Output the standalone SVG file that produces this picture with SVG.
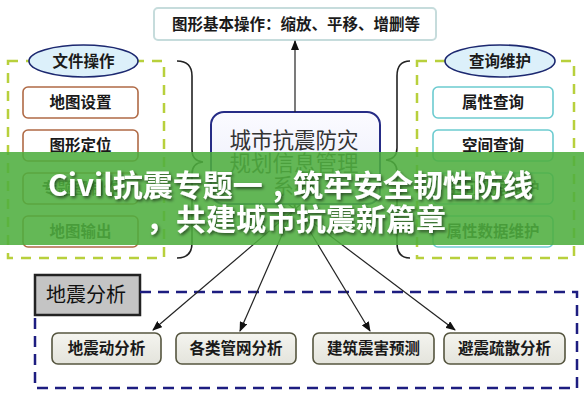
<svg xmlns="http://www.w3.org/2000/svg" width="584" height="400" viewBox="0 0 584 400">
<defs>
<style>
text{font-family:"Noto Sans CJK SC","Noto Sans",sans-serif;}
.lbl{font-size:15.5px;font-weight:bold;fill:#1a1a1a;text-anchor:middle;}
.panel{fill:none;stroke:#b8d03c;stroke-width:2.5;stroke-dasharray:10 8;}
.oval{fill:#dcf0fa;stroke:#1c2870;stroke-width:1.6;}
.lbox{fill:#fff;stroke:#b06a45;stroke-width:1.6;}
.rbox{fill:#fff;stroke:#6ccbd0;stroke-width:1.6;}
.bbox{fill:url(#gray);stroke:#55553f;stroke-width:1.6;}
.brace{fill:none;stroke:#222;stroke-width:1.6;}
.conn{stroke:#222;stroke-width:1.2;fill:none;marker-end:url(#ah);}
.band{fill:#4fae3f;fill-opacity:0.88;}
.title{font-size:30px;font-weight:bold;fill:#fff;filter:url(#sh);}
</style>
<linearGradient id="gray" x1="0" y1="0" x2="0" y2="1">
<stop offset="0" stop-color="#f4f4ef"/><stop offset="1" stop-color="#e4e4dc"/>
</linearGradient>
<linearGradient id="cbg" x1="0" y1="0" x2="0" y2="1">
<stop offset="0" stop-color="#fbfbff"/><stop offset="1" stop-color="#e9ebfa"/>
</linearGradient>
<marker id="ah" markerWidth="10" markerHeight="8" refX="9" refY="4" orient="auto" markerUnits="userSpaceOnUse">
<path d="M0,0 L10,4 L0,8 Z" fill="#111"/>
</marker>
<filter id="sh" x="-10%" y="-30%" width="120%" height="160%">
<feDropShadow dx="1.5" dy="2" stdDeviation="1.5" flood-color="#000" flood-opacity="0.55"/>
</filter>
</defs>

<g id="top-box">
<rect x="154" y="8" width="282" height="32" rx="4" fill="#fff" stroke="#c6dcdc" stroke-width="2"/>
<text class="lbl" x="296" y="30">图形基本操作：缩放、平移、增删等</text>
</g>

<g id="left-panel">
<rect class="panel" x="8" y="61" width="156" height="197"/>
<ellipse class="oval" cx="83.5" cy="61" rx="54.5" ry="16"/>
<text class="lbl" x="83.5" y="66.5">文件操作</text>
</g>
<g id="map-settings"><rect class="lbox" x="23" y="87" width="115" height="31" rx="5"/><text class="lbl" x="80.5" y="108">地图设置</text></g>
<g id="map-locate"><rect class="lbox" x="23" y="130" width="115" height="31" rx="5"/><text class="lbl" x="80.5" y="151">图形定位</text></g>
<g id="thematic-map"><rect class="lbox" x="23" y="173" width="115" height="31" rx="5"/><text class="lbl" x="80.5" y="194">专题图制作</text></g>
<g id="map-output"><rect class="lbox" x="23" y="216" width="115" height="31" rx="5"/><text class="lbl" x="80.5" y="237">地图输出</text></g>

<g id="right-panel">
<rect class="panel" x="417" y="61" width="157" height="197"/>
<ellipse class="oval" cx="500" cy="61" rx="55" ry="16"/>
<text class="lbl" x="500" y="66.5">查询维护</text>
</g>
<g id="attr-query"><rect class="rbox" x="433" y="87" width="120" height="31" rx="5"/><text class="lbl" x="493" y="108">属性查询</text></g>
<g id="space-query"><rect class="rbox" x="433" y="130" width="120" height="31" rx="5"/><text class="lbl" x="493" y="151">空间查询</text></g>
<g id="space-data"><rect class="rbox" x="433" y="173" width="120" height="31" rx="5"/><text class="lbl" x="493" y="194">空间数据维护</text></g>
<g id="attr-data"><rect class="rbox" x="433" y="216" width="120" height="31" rx="5"/><text class="lbl" x="493" y="237">属性数据维护</text></g>

<g id="center-box">
<rect x="211" y="112" width="169" height="92" rx="13" fill="url(#cbg)" stroke="#262c86" stroke-width="2"/>
<text x="294" y="148" font-size="21.5" fill="#333" text-anchor="middle">城市抗震防灾</text>
<text x="294" y="171" font-size="21.5" fill="#333" text-anchor="middle">规划信息管理</text>
<text x="294" y="194" font-size="21.5" fill="#333" text-anchor="middle">系统</text>
</g>

<g id="quake-analysis">
<rect x="35" y="275" width="105" height="40" fill="#c4c4c4" stroke="#222" stroke-width="2.5"/>
<text x="46" y="302" font-size="20" fill="#111">地震分析</text>
<path d="M140,292 L577,292 L577,388 L35,388 L35,315" fill="none" stroke="#1d1d80" stroke-width="2.5" stroke-dasharray="11 7"/>
</g>
<g id="ground-motion"><rect class="bbox" x="52" y="333" width="109" height="31" rx="6"/><text class="lbl" x="106.5" y="354">地震动分析</text></g>
<g id="pipe-network"><rect class="bbox" x="176" y="333" width="120" height="31" rx="6"/><text class="lbl" x="236" y="354">各类管网分析</text></g>
<g id="building-damage"><rect class="bbox" x="313" y="333" width="121" height="31" rx="6"/><text class="lbl" x="373.5" y="354">建筑震害预测</text></g>
<g id="evacuation"><rect class="bbox" x="444" y="333" width="121" height="31" rx="6"/><text class="lbl" x="504.5" y="354">避震疏散分析</text></g>

<g id="connectors">
<line class="conn" x1="295" y1="112" x2="295" y2="41"/>
<path class="brace" d="M177,61 Q192,61 192,76 L192,150 Q192,161 203,162 Q192,163 192,174 L192,243 Q192,258 177,258"/>
<path class="brace" d="M410,61 Q397,61 397,76 L397,148 Q397,159 386,160 Q397,161 397,172 L397,243 Q397,258 410,258"/>
<line class="conn" x1="301" y1="204" x2="153" y2="330"/>
<line class="conn" x1="295.5" y1="204" x2="240" y2="331"/>
<line class="conn" x1="293.5" y1="204" x2="370" y2="331"/>
<line class="conn" x1="288" y1="204" x2="455" y2="330"/>
</g>

<g id="banner">
<rect class="band" x="0" y="152" width="584" height="93"/>
<text class="title" x="48" y="196">Civil抗震专题一<tspan x="273">,</tspan><tspan x="293">筑牢安全韧性防线</tspan></text>
<text class="title" x="146" y="230">，共建城市抗震新篇章</text>
</g>
</svg>
